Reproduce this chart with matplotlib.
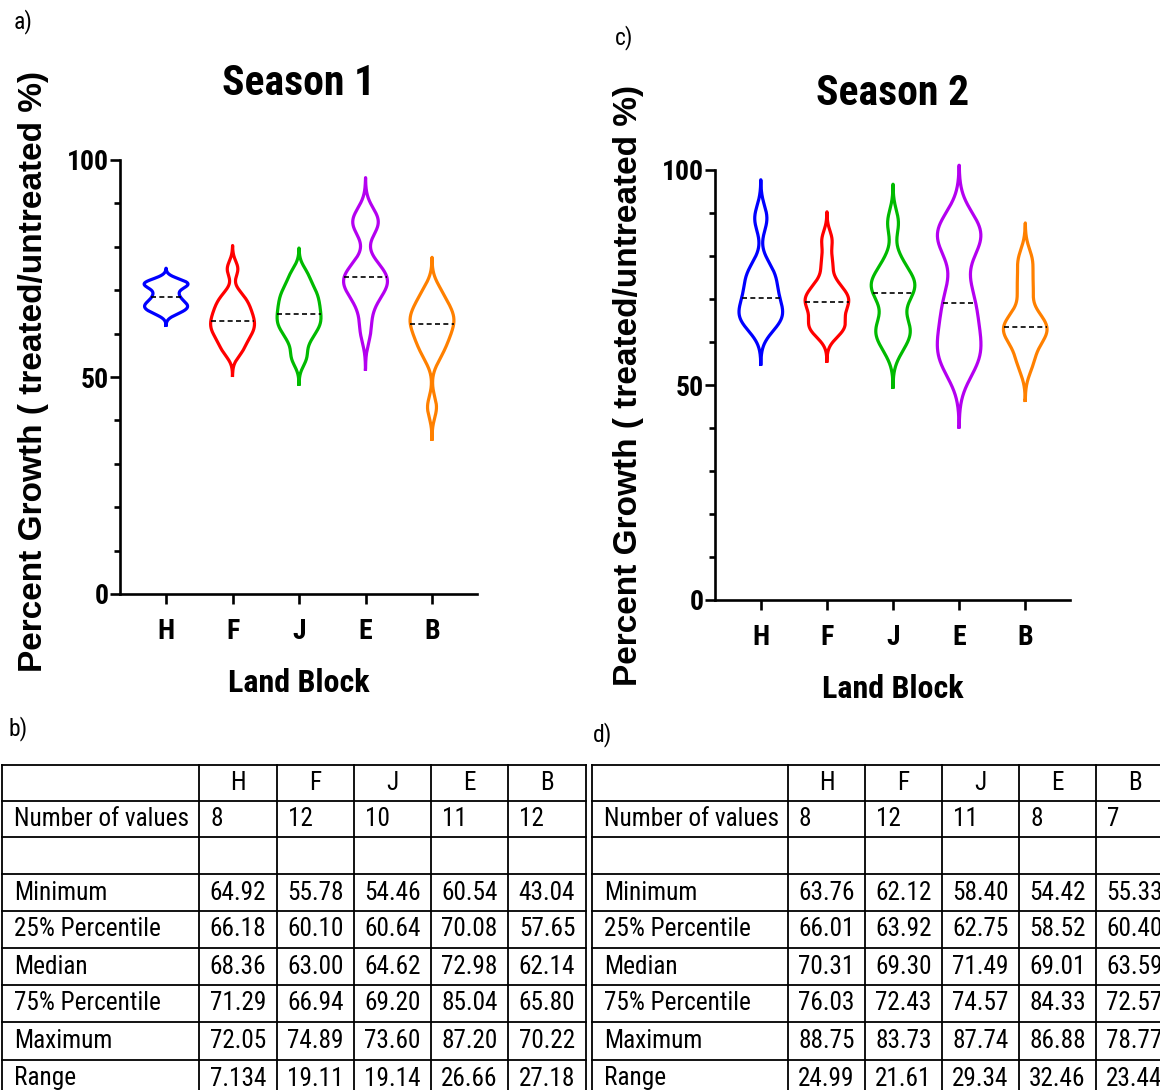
import numpy as np
import matplotlib
matplotlib.use("Agg")
import matplotlib.pyplot as plt
from matplotlib import font_manager
from matplotlib.ticker import MultipleLocator

blocks = ['H', 'F', 'J', 'E', 'B']
colors = ['#0000FF', '#FF0000', '#00BA00', '#B400F0', '#FF8000']

# individual plot values, season 1
s1_H = [64.92, 65.90, 66.60, 67.62, 69.10, 70.90, 71.50, 72.05]
s1_F = [55.78, 57.50, 59.50, 60.30, 61.50, 62.50, 63.50, 64.60, 66.00, 67.20, 69.00, 74.89]
s1_J = [54.46, 58.50, 61.00, 62.30, 63.80, 65.44, 67.00, 68.80, 70.50, 73.60]
s1_E = [60.54, 66.00, 69.50, 70.50, 71.80, 72.98, 74.00, 76.00, 84.50, 85.60, 87.20]
s1_B = [43.04, 54.50, 57.00, 58.50, 60.20, 61.50, 62.78, 63.60, 64.80, 66.20, 67.80, 70.22]

# individual plot values, season 2
s2_H = [63.76, 65.50, 66.80, 69.00, 71.62, 74.50, 77.00, 88.75]
s2_F = [62.12, 63.00, 64.20, 65.50, 67.80, 68.90, 69.70, 70.80, 71.90, 74.00, 78.50, 83.73]
s2_J = [58.40, 61.50, 62.75, 64.50, 69.00, 71.49, 73.00, 74.00, 75.50, 79.00, 87.74]
s2_E = [54.42, 57.50, 61.50, 66.50, 71.52, 82.00, 85.50, 86.88]
s2_B = [55.33, 60.40, 62.50, 63.59, 66.00, 72.57, 78.77]

# descriptive statistics
s1_n = [8, 12, 10, 11, 12]
s1_min = [64.92, 55.78, 54.46, 60.54, 43.04]
s1_q1 = [66.18, 60.10, 60.64, 70.08, 57.65]
s1_med = [68.36, 63.00, 64.62, 72.98, 62.14]
s1_q3 = [71.29, 66.94, 69.20, 85.04, 65.80]
s1_max = [72.05, 74.89, 73.60, 87.20, 70.22]
s1_range = [7.134, 19.11, 19.14, 26.66, 27.18]

s2_n = [8, 12, 11, 8, 7]
s2_min = [63.76, 62.12, 58.40, 54.42, 55.33]
s2_q1 = [66.01, 63.92, 62.75, 58.52, 60.40]
s2_med = [70.31, 69.30, 71.49, 69.01, 63.59]
s2_q3 = [76.03, 72.43, 74.57, 84.33, 72.57]
s2_max = [88.75, 83.73, 87.74, 86.88, 78.77]
s2_range = [24.99, 21.61, 29.34, 32.46, 23.44]

row_labels = ['Number of values', '', 'Minimum', '25% Percentile', 'Median',
              '75% Percentile', 'Maximum', 'Range']

# pick a condensed sans if one is installed, otherwise shrink Liberation Sans
installed = font_manager.fontManager.ttflist
NARROW = None
for name in ['Liberation Sans Narrow', 'Arial Narrow', 'Roboto Condensed',
             'Noto Sans Condensed', 'Open Sans Condensed', 'DejaVu Sans Condensed']:
    if any(f.name == name for f in installed):
        NARROW = dict(family=name)
        break
if NARROW is None:
    for name in ['Noto Sans', 'DejaVu Sans', 'Roboto', 'Open Sans']:
        if any(f.name == name and f.stretch in ('condensed', 'semi-condensed', 500)
               for f in installed):
            NARROW = dict(family=name, fontstretch='condensed')
            break
if NARROW is None:
    NARROW = dict(family='Liberation Sans')
    SC = 0.82
else:
    SC = 1.0

plt.rcParams['font.family'] = ['Liberation Sans', 'DejaVu Sans']

W, H = 1160, 1090
fig = plt.figure(figsize=(W / 100, H / 100), dpi=100)

HALF_W = 0.33


def kde(vals):
    v = np.asarray(vals, dtype=float)
    bw = 0.56 * v.std(ddof=1) * len(v) ** -0.2
    y = np.linspace(v.min() - 3 * bw, v.max() + 3 * bw, 400)
    d = np.exp(-0.5 * ((y[:, None] - v[None, :]) / bw) ** 2).sum(axis=1)
    peak = d.max()
    return y, d / peak, v, bw, peak


def violin_panel(rect, groups, medians, title, label_y):
    ax = fig.add_axes(rect)
    for i, (vals, med, c) in enumerate(zip(groups, medians, colors)):
        pos = i + 1
        y, w, v, bw, peak = kde(vals)
        xs = np.concatenate([pos - HALF_W * w, (pos + HALF_W * w)[::-1], [pos - HALF_W * w[0]]])
        ys = np.concatenate([y, y[::-1], [y[0]]])
        ax.plot(xs, ys, color=c, lw=2.3, solid_joinstyle='round', clip_on=False, zorder=3)
        # dashed median across the violin body
        dm = np.exp(-0.5 * ((med - v) / bw) ** 2).sum() / peak
        ax.plot([pos - HALF_W * dm, pos + HALF_W * dm], [med, med], color='black',
                lw=1.2, ls=(0, (3, 2)), zorder=4)
    ax.set_xlim(0.307, 5.677)
    ax.set_ylim(0, 100)
    ax.set_xticks(range(1, 6))
    ax.set_xticklabels(blocks)
    ax.set_yticks([0, 50, 100])
    ax.yaxis.set_minor_locator(MultipleLocator(10))
    for s in ('top', 'right'):
        ax.spines[s].set_visible(False)
    for s in ('left', 'bottom'):
        ax.spines[s].set_linewidth(1.9)
    ax.tick_params(axis='both', which='major', width=1.9, length=7)
    ax.tick_params(axis='y', which='major', pad=1)
    ax.tick_params(axis='x', which='major', pad=10)
    ax.tick_params(axis='y', which='minor', width=1.9, length=4.5)
    for lab in ax.get_xticklabels() + ax.get_yticklabels():
        lab.set_fontweight('bold')
        lab.set_fontsize(20 * SC)
        lab.set_fontfamily(NARROW['family'])
        if 'fontstretch' in NARROW:
            lab.set_fontstretch(NARROW['fontstretch'])
    ax.set_title(title, fontsize=30 * SC, fontweight='bold', pad=47, **NARROW)
    ax.set_xlabel('Land Block', fontsize=23 * SC, fontweight='bold', labelpad=17, **NARROW)
    ax.set_ylabel('Percent Growth ( treated/untreated %)', fontsize=24,
                  fontweight='bold')
    ax.yaxis.set_label_coords(-0.20, label_y)
    return ax


violin_panel([120 / W, (H - 594) / H, 357 / W, 434 / H],
             [s1_H, s1_F, s1_J, s1_E, s1_B], s1_med, 'Season 1', 0.513)
violin_panel([715 / W, (H - 600) / H, 355 / W, 430 / H],
             [s2_H, s2_F, s2_J, s2_E, s2_B], s2_med, 'Season 2', 0.5)

# tables drawn in pixel space over the whole figure
tab = fig.add_axes([0, 0, 1, 1])
tab.set_xlim(0, W)
tab.set_ylim(H, 0)
tab.axis('off')

row_edges = [765, 801, 837, 874, 911, 948, 985, 1022, 1060, 1097]
TFS = 18.2 * SC


def fmt(x):
    return '{:#.4g}'.format(x)


def draw_table(col_edges, n, mins, q1, med, q3, maxs, rng):
    x0, x1 = col_edges[0], col_edges[-1]
    for y in row_edges:
        tab.plot([x0, x1], [y, y], color='black', lw=1.3, clip_on=False)
    for x in col_edges:
        tab.plot([x, x], [row_edges[0], row_edges[-1]], color='black', lw=1.3, clip_on=False)
    mid = lambda r: (row_edges[r] + row_edges[r + 1]) / 2
    for j, b in enumerate(blocks):
        cx = (col_edges[j + 1] + col_edges[j + 2]) / 2
        tab.text(cx, mid(0), b, ha='center', va='center', fontsize=TFS, clip_on=False, **NARROW)
    for r, lab in enumerate(row_labels):
        tab.text(x0 + 12, mid(r + 1), lab, ha='left', va='center', fontsize=TFS, **NARROW)
    for j in range(5):
        tab.text(col_edges[j + 1] + 11, mid(1), str(n[j]), ha='left', va='center',
                 fontsize=TFS, clip_on=False, **NARROW)
    stats = [mins, q1, med, q3, maxs, rng]
    for k, vals in enumerate(stats):
        for j in range(5):
            cx = (col_edges[j + 1] + col_edges[j + 2]) / 2
            tab.text(cx, mid(k + 3), fmt(vals[j]), ha='center', va='center',
                     fontsize=TFS, clip_on=False, **NARROW)


draw_table([2, 199, 277, 354, 431, 508, 586],
           s1_n, s1_min, s1_q1, s1_med, s1_q3, s1_max, s1_range)
draw_table([592, 788, 865, 942, 1019, 1096, 1173],
           s2_n, s2_min, s2_q1, s2_med, s2_q3, s2_max, s2_range)

for txt, x, y in [('a)', 14, 22), ('b)', 9, 729), ('c)', 615, 38), ('d)', 593, 735)]:
    tab.text(x, y, txt, ha='left', va='center', fontsize=17 * SC, **NARROW)

fig.savefig('out.png', dpi=100)
